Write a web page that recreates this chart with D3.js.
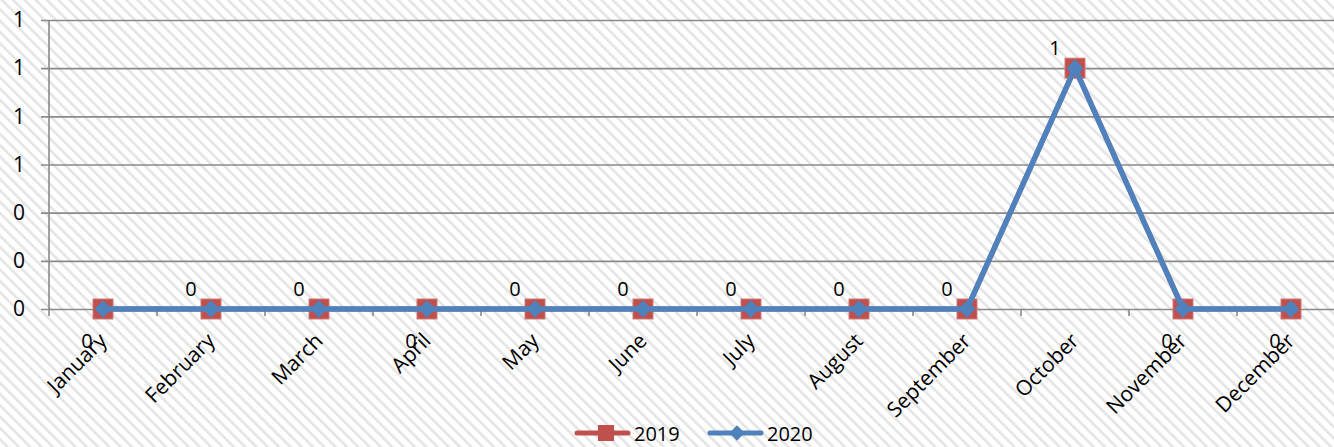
<!DOCTYPE html>
<html>
<head>
<script src="https://d3js.org/d3.v7.min.js"></script>
<style>
    body { margin: 0; background: #fff; }
    svg text { font-family: "Open Sans", "Noto Sans", sans-serif; fill: #000; }
</style>
</head>
<body>
<script>
    // data
    var months = ['January', 'February', 'March', 'April', 'May', 'June',
                  'July', 'August', 'September', 'October', 'November', 'December'];
    var values2019 = [0, 0, 0, 0, 0, 0, 0, 0, 0, 1, 0, 0];
    var values2020 = [0, 0, 0, 0, 0, 0, 0, 0, 0, 1, 0, 0];
    var yTicks = [0, 0.2, 0.4, 0.6, 0.8, 1.0, 1.2];
    // where each data label sits relative to its point
    var labelSide = ['below', 'above', 'above', 'below', 'above', 'above',
                     'above', 'above', 'above', 'above', 'below', 'below'];

    var width = 1334, height = 447;
    var plotLeft = 49, plotRight = 49 + 12 * 108, plotTop = 20, plotBottom = 309;

    var svg = d3.select('body')
        .append('svg')
        .attr('width', width)
        .attr('height', height);

    // striped background
    var defs = svg.append('defs');
    var pat = defs.append('pattern')
        .attr('id', 'stripes')
        .attr('patternUnits', 'userSpaceOnUse')
        .attr('width', 8)
        .attr('height', 8)
        .attr('patternTransform', 'rotate(-45)');
    pat.append('rect').attr('width', 8).attr('height', 8).attr('fill', '#fff');
    pat.append('rect').attr('width', 2.6).attr('height', 8).attr('fill', '#e4e4e4');

    svg.append('rect')
        .attr('width', width)
        .attr('height', height)
        .attr('fill', 'url(#stripes)');

    // scales
    var x = d3.scaleBand().domain(months).range([plotLeft, plotRight]);
    var y = d3.scaleLinear().domain([0, 1.2]).range([plotBottom, plotTop]);
    var cx = function (m) { return x(m) + x.bandwidth() / 2; };

    // gridlines + y axis
    var yAxis = d3.axisLeft(y)
        .tickValues(yTicks)
        .tickSize(-(plotRight - plotLeft))
        .tickFormat(d3.format('.0f'));
    var gy = svg.append('g')
        .attr('transform', 'translate(' + plotLeft + ',0)')
        .call(yAxis);
    gy.select('.domain').remove();
    gy.selectAll('.tick line')
        .attr('x1', -8)
        .attr('stroke', '#8a8a8a')
        .attr('stroke-width', 1.6);
    gy.selectAll('.tick text')
        .attr('x', -24)
        .attr('font-size', 21)
        .attr('font-family', '"Open Sans", sans-serif');

    svg.append('line')
        .attr('x1', plotLeft).attr('x2', plotLeft)
        .attr('y1', plotTop).attr('y2', plotBottom + 7)
        .attr('stroke', '#8a8a8a')
        .attr('stroke-width', 1.6);

    // x axis
    var xAxis = d3.axisBottom(x).tickSize(0).tickSizeOuter(0);
    var gx = svg.append('g')
        .attr('transform', 'translate(0,' + plotBottom + ')')
        .call(xAxis);
    gx.select('.domain').remove();
    gx.selectAll('.tick text')
        .attr('font-size', 21)
        .attr('font-family', '"Open Sans", sans-serif')
        .attr('text-anchor', 'end')
        .attr('dy', 0)
        .attr('transform', 'translate(3,31) rotate(-45)');

    // category separators
    svg.append('g')
        .selectAll('line')
        .data(months.slice(1))
        .enter()
        .append('line')
        .attr('x1', d => x(d)).attr('x2', d => x(d))
        .attr('y1', plotBottom).attr('y2', plotBottom + 7)
        .attr('stroke', '#8a8a8a')
        .attr('stroke-width', 1.6);

    var line = d3.line()
        .x((d, i) => cx(months[i]))
        .y(d => y(d));

    // 2019 series
    svg.append('path')
        .datum(values2019)
        .attr('d', line)
        .attr('fill', 'none')
        .attr('stroke', '#C0504D')
        .attr('stroke-width', 5);
    svg.append('g')
        .selectAll('rect')
        .data(values2019)
        .enter()
        .append('rect')
        .attr('x', (d, i) => cx(months[i]) - 10)
        .attr('y', d => y(d) - 10)
        .attr('width', 20)
        .attr('height', 20)
        .attr('fill', '#C0504D')
        .attr('stroke', '#d27a77')
        .attr('stroke-width', 1);

    // 2020 series
    svg.append('path')
        .datum(values2020)
        .attr('d', line)
        .attr('fill', 'none')
        .attr('stroke', '#4F81BD')
        .attr('stroke-width', 5.5);
    svg.append('g')
        .selectAll('path')
        .data(values2020)
        .enter()
        .append('path')
        .attr('d', d3.symbol().type(d3.symbolDiamond2).size(200))
        .attr('transform', (d, i) => 'translate(' + cx(months[i]) + ',' + y(d) + ') scale(0.95,1)')
        .attr('fill', '#4F81BD');

    // data labels
    svg.append('g')
        .selectAll('text')
        .data(values2019)
        .enter()
        .append('text')
        .attr('x', (d, i) => cx(months[i]) - (labelSide[i] === 'above' ? 20 : 16))
        .attr('y', (d, i) => y(d) + (labelSide[i] === 'above' ? -13 : 39))
        .attr('text-anchor', 'middle')
        .attr('font-size', 20)
        .text(d => d3.format('.0f')(d));

    // legend
    var legend = svg.append('g').attr('transform', 'translate(0,433)');
    var items = [
        { name: '2019', color: '#C0504D', x: 575, marker: 'square' },
        { name: '2020', color: '#4F81BD', x: 708, marker: 'diamond' }
    ];
    items.forEach(function (it) {
        legend.append('line')
            .attr('x1', it.x + 2).attr('x2', it.x + 53)
            .attr('y1', 0).attr('y2', 0)
            .attr('stroke', it.color)
            .attr('stroke-width', 5)
            .attr('stroke-linecap', 'round');
        if (it.marker === 'square') {
            legend.append('rect')
                .attr('x', it.x + 23).attr('y', -8)
                .attr('width', 16).attr('height', 16)
                .attr('fill', it.color);
        } else {
            legend.append('path')
                .attr('d', d3.symbol().type(d3.symbolDiamond2).size(150))
                .attr('transform', 'translate(' + (it.x + 29) + ',0)')
                .attr('fill', it.color);
        }
        legend.append('text')
            .attr('x', it.x + 59)
            .attr('y', 8)
            .attr('font-size', 20)
            .text(it.name);
    });
</script>
</body>
</html>
